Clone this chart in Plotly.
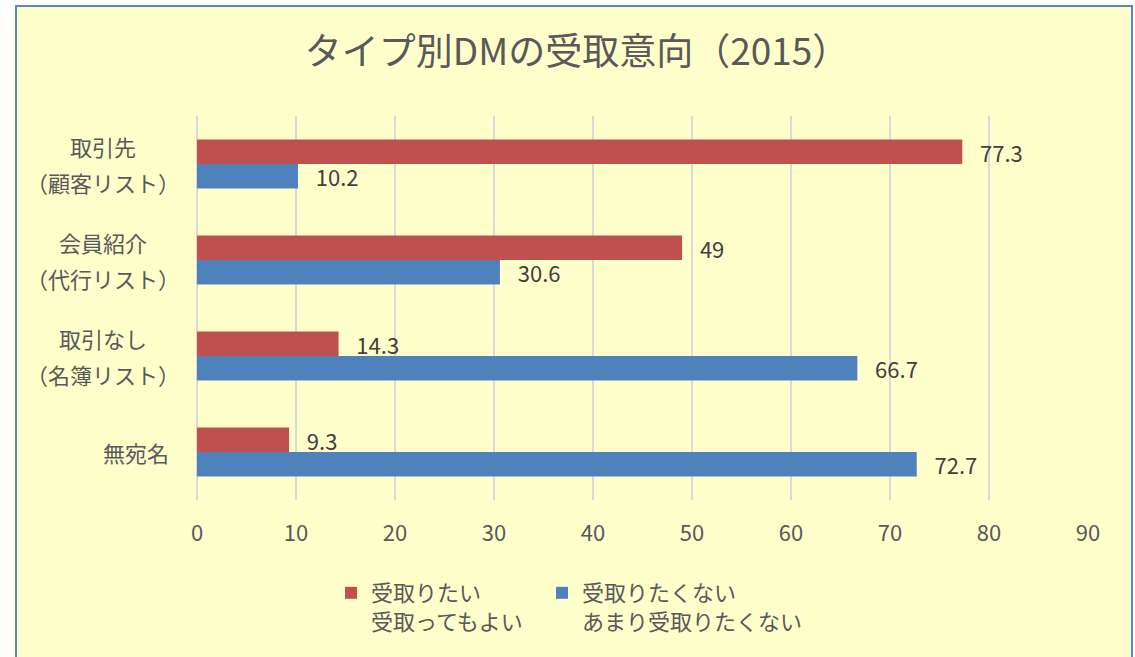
import plotly.graph_objects as go

categories = ["取引先<br>（顧客リスト）", "会員紹介<br>（代行リスト）", "取引なし<br>（名簿リスト）", "無宛名"]
cat_keys = ["取引先", "会員紹介", "取引なし", "無宛名"]
want = [77.3, 49, 14.3, 9.3]
not_want = [10.2, 30.6, 66.7, 72.7]
series_names = ["受取りたい<br>受取ってもよい", "受取りたくない<br>あまり受取りたくない"]
x_ticks = [0, 10, 20, 30, 40, 50, 60, 70, 80, 90]

W, H = 1135, 657
ml, mr, mt, mb = 197, 47, 116, 157
pw, ph = W - ml - mr, H - mt - mb

def px_x(p):
    return (p - ml) / pw

def px_y(p):
    return (H - mb - p) / ph

FONT = "Noto Sans CJK JP, Noto Sans, sans-serif"
GREY = "#595959"

fig = go.Figure()
fig.add_trace(go.Bar(
    y=cat_keys, x=want, orientation="h", name=series_names[0], legend="legend",
    marker=dict(color="#C0504D", line=dict(width=0)),
    text=[f"{v:g}" for v in want], texttemplate="   %{text}", textposition="outside",
    constraintext="none",
    textfont=dict(size=22, color="#404040", family=FONT), cliponaxis=False,
))
fig.add_trace(go.Bar(
    y=cat_keys, x=not_want, orientation="h", name=series_names[1], legend="legend2",
    marker=dict(color="#4F81BD", line=dict(width=0)),
    text=[f"{v:g}" for v in not_want], texttemplate="   %{text}", textposition="outside",
    constraintext="none",
    textfont=dict(size=22, color="#404040", family=FONT), cliponaxis=False,
))

# chart area background & border
fig.add_shape(type="rect", xref="paper", yref="paper",
              x0=px_x(16), x1=px_x(1132), y0=px_y(6), y1=px_y(665),
              fillcolor="#FFFFCC", line=dict(color="#5B87C8", width=2), layer="below")

# category labels (centered multi-line, 36px line spacing)
LINE = 36
for key, lab in zip(cat_keys, categories):
    lines = lab.split("<br>")
    n = len(lines)
    for i, ln in enumerate(lines):
        if n > 1:
            xa, xpos = "center", px_x(103)
        else:
            xa, xpos = "right", px_x(171)
        fig.add_annotation(x=xpos, xref="paper", y=key, yref="y", text=ln,
                           showarrow=False, xanchor=xa, yanchor="middle",
                           yshift=((n - 1) / 2 - i) * LINE,
                           font=dict(size=22, color=GREY, family=FONT))

legend_common = dict(orientation="v", xanchor="left", y=px_y(572), yanchor="top",
                     valign="top", bgcolor="rgba(0,0,0,0)",
                     font=dict(size=22, color=GREY, family=FONT))

fig.update_layout(
    width=W, height=H,
    margin=dict(l=ml, r=mr, t=mt, b=mb),
    paper_bgcolor="white", plot_bgcolor="rgba(0,0,0,0)",
    barmode="group", bargap=0.49, bargroupgap=0,
    title=dict(text="タイプ別DMの受取意向（2015）", x=px_x(577), xref="paper", xanchor="center",
               y=1 - 52 / H, yanchor="middle",
               font=dict(size=37, color=GREY, family=FONT)),
    xaxis=dict(range=[0, 90], tickvals=x_ticks, showgrid=True, gridcolor="#D9D9D9", gridwidth=1.5,
               zeroline=True, zerolinecolor="#D9D9D9", zerolinewidth=1.5, showline=False,
               ticks="", ticklabelstandoff=18,
               tickfont=dict(size=22, color=GREY, family=FONT)),
    yaxis=dict(autorange="reversed", showticklabels=False, showgrid=False, zeroline=False, ticks=""),
    legend=dict(x=px_x(331), **legend_common),
    legend2=dict(x=px_x(542), **legend_common),
    showlegend=True,
)

fig.write_html("out.html", post_script="document.body.style.margin='0px';",
               config={"displayModeBar": False})
